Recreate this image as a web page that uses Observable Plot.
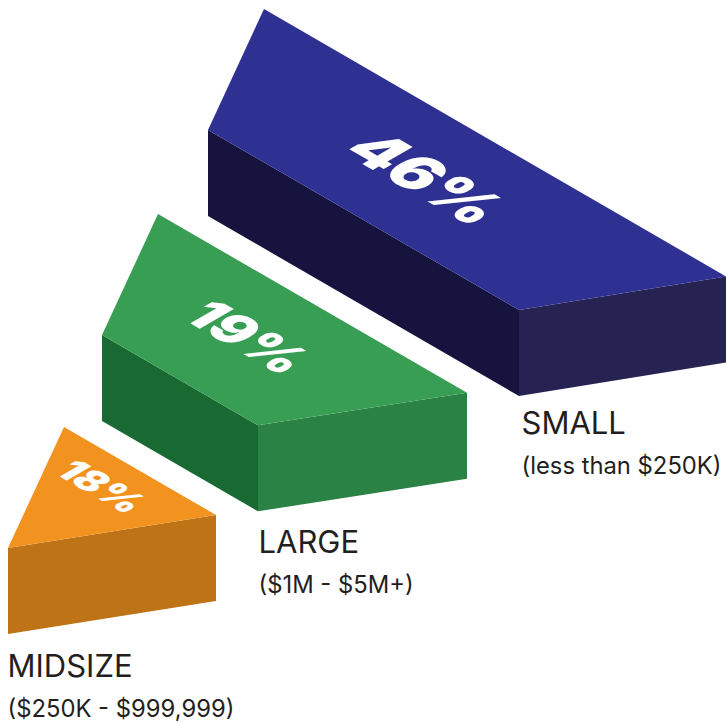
<!DOCTYPE html>
<html>
<head>
<meta charset="utf-8">
<script src="https://cdn.jsdelivr.net/npm/d3@7"></script>
<script src="https://cdn.jsdelivr.net/npm/@observablehq/plot@0.6"></script>
<style>
html,body{margin:0;padding:0;background:#fff}
svg{display:block}
</style>
</head>
<body>
<div id="chart"></div>
<script>
const categories = ["SMALL", "LARGE", "MIDSIZE"];
const ranges = ["(less than $250K)", "($1M - $5M+)", "($250K - $999,999)"];
const shares = [46, 19, 18];
const startRun = [311, 156, 0];
const endRun = [462, 309, 152];
const cornerX = [207.5, 101.5, 7.5];
const cornerY = [129.5, 334.5, 547.5];
const labelX = [521, 258, 7];
const labelY = [433, 552, 676];
const shareX = [424, 246, 100];
const shareY = [179, 338, 487];
const shareSize = [63, 54, 39];
const topColors = ["#2E3192", "#389E54", "#F29320"];
const sideColors = ["#16133F", "#186A32", "#BD7316"];
const frontColors = ["#262353", "#2A8344", "#BD7316"];

const slope = 180 / 311, depthX = 56, depthY = -121, wall = 86;

const faces = categories.flatMap((c, i) => {
  const x0 = cornerX[i], y0 = cornerY[i];
  const a = [x0, y0];
  const b = [x0 + startRun[i], y0 + startRun[i] * slope];
  const d = [x0 + depthX, y0 + depthY];
  const e = [d[0] + endRun[i], d[1] + endRun[i] * slope];
  const drop = p => [p[0], p[1] + wall];
  const polys = [
    {face: "side", color: sideColors[i], pts: [a, b, drop(b), drop(a)]},
    {face: "front", color: frontColors[i], pts: [b, e, drop(e), drop(b)]},
    {face: "top", color: topColors[i], pts: [a, b, e, d]}
  ];
  return polys.flatMap(f => f.pts.map(p => ({id: c + f.face, color: f.color, x: p[0], y: p[1]})));
});

const table = categories.map((c, i) => ({
  c, range: ranges[i], share: shares[i] + "%",
  lx: labelX[i], ly: labelY[i], sx: shareX[i], sy: shareY[i], size: shareSize[i]
}));

const iso = (index, scales, values, dimensions, context, next) => {
  const g = next(index, scales, values, dimensions, context);
  d3.select(g).selectAll("text").attr("transform", function () {
    return this.getAttribute("transform") + " matrix(.866,.5,-.866,.5,0,0)";
  });
  return g;
};

const plot = Plot.plot({
  width: 726, height: 723,
  margin: 0,
  x: {type: "linear", domain: [0, 726], range: [0, 726], axis: null},
  y: {type: "linear", domain: [0, 723], range: [0, 723], axis: null},
  color: {type: "identity"},
  marks: [
    Plot.line(faces, {x: "x", y: "y", z: "id", fill: "color", stroke: "none", curve: "linear-closed"}),
    Plot.text(table, {x: "sx", y: "sy", text: "share", fontSize: d => d.size, fill: "white",
      fontFamily: "Inter", fontWeight: 900, render: iso}),
    Plot.text(table, {x: "lx", y: "ly", text: "c", textAnchor: "start", lineAnchor: "bottom",
      fontSize: 31, fontFamily: "Inter", fill: "#231F20"}),
    Plot.text(table, {x: "lx", y: d => d.ly + 40, text: "range", textAnchor: "start", lineAnchor: "bottom",
      fontSize: 23.8, fontFamily: "Inter", fill: "#231F20"})
  ]
});
document.getElementById("chart").appendChild(plot);
</script>
</body>
</html>
